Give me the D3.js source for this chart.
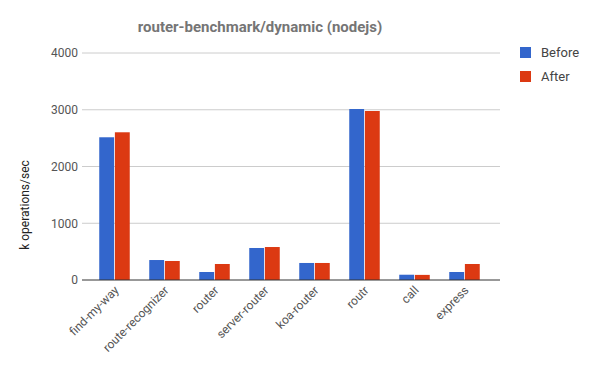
<!DOCTYPE html>
<html>
<head>
<meta charset="utf-8">
<script src="https://cdn.jsdelivr.net/npm/d3@7"></script>
<style>
  body { margin: 0; background: #fff; }
  text { font-family: Roboto, Arial, sans-serif; }
</style>
</head>
<body>
<svg></svg>
<script>
const WIDTH = 600
const HEIGHT = 371

const categories = ['find-my-way','route-recognizer','router','server-router','koa-router','routr','call','express']
const seriesNames = ['Before','After']
const before = [2515, 352, 141, 564, 300, 3013, 93, 141]
const after = [2603, 335, 282, 581, 300, 2978, 90, 282]
const yTicks = [0, 1000, 2000, 3000, 4000]
const colors = ['#3366cc','#dc3912']

const svg = d3.select('svg')
  .attr('width',WIDTH)
  .attr('height',HEIGHT)

const y = d3.scaleLinear().domain([0,4000]).range([280,53])
const x = d3.scaleBand()
  .domain(categories)
  .range([89.5,489.5])
  .paddingInner(0.39)
  .paddingOuter(0.195)
const xs = d3.scaleBand()
  .domain(seriesNames)
  .range([0,x.bandwidth()])
  .paddingInner(0.05)

// gridlines
svg.append('g')
  .selectAll('line')
  .data(yTicks.filter(d => d > 0))
  .enter().append('line')
  .attr('x1',82).attr('x2',500)
  .attr('y1',d => y(d)).attr('y2',d => y(d))
  .attr('stroke','#cccccc')

// y axis labels
const yAxis = svg.append('g')
  .attr('transform','translate(78,0)')
  .call(d3.axisLeft(y).tickValues(yTicks).tickSize(0).tickPadding(0).tickFormat(d3.format('d')))
yAxis.select('.domain').remove()
yAxis.selectAll('text')
  .attr('fill','#555')
  .style('font-size','12px')

// bars
const rows = categories.map((c,i) => ({cat:c, vals:[before[i],after[i]]}))
svg.append('g')
  .selectAll('g')
  .data(rows)
  .enter().append('g')
  .attr('transform',d => `translate(${x(d.cat)},0)`)
  .selectAll('rect')
  .data(d => d.vals.map((v,j) => ({name:seriesNames[j], v:v, j:j})))
  .enter().append('rect')
  .attr('x',d => xs(d.name))
  .attr('width',xs.bandwidth())
  .attr('y',d => y(d.v))
  .attr('height',d => y(0) - y(d.v))
  .attr('fill',d => colors[d.j])

// baseline
svg.append('line')
  .attr('x1',82).attr('x2',500)
  .attr('y1',y(0)).attr('y2',y(0))
  .attr('stroke','#333')
  .attr('stroke-width',1)

// x labels
svg.append('g')
  .selectAll('text')
  .data(categories)
  .enter().append('text')
  .attr('transform',d => `translate(${x(d)+x.bandwidth()/2+5},${291}) rotate(-45)`)
  .attr('text-anchor','end')
  .attr('fill','#555')
  .style('font-size','12px')
  .text(d => d)

// title
svg.append('text')
  .attr('x',260).attr('y',32)
  .attr('text-anchor','middle')
  .attr('fill','#757575')
  .style('font-size','15px')
  .style('font-weight','bold')
  .text('router-benchmark/dynamic (nodejs)')

// y axis title
svg.append('text')
  .attr('transform','translate(29,205) rotate(-90)')
  .attr('text-anchor','middle')
  .attr('fill','#222')
  .style('font-size','12px')
  .text('k operations/sec')

// legend
const legend = svg.append('g')
  .selectAll('g')
  .data(seriesNames)
  .enter().append('g')
  .attr('transform',(d,i) => `translate(520,${47+i*24})`)
legend.append('rect')
  .attr('width',11).attr('height',11)
  .attr('fill',(d,i) => colors[i])
legend.append('text')
  .attr('x',21).attr('y',10)
  .attr('fill','#444')
  .style('font-size','13px')
  .text(d => d)
</script>
</body>
</html>
